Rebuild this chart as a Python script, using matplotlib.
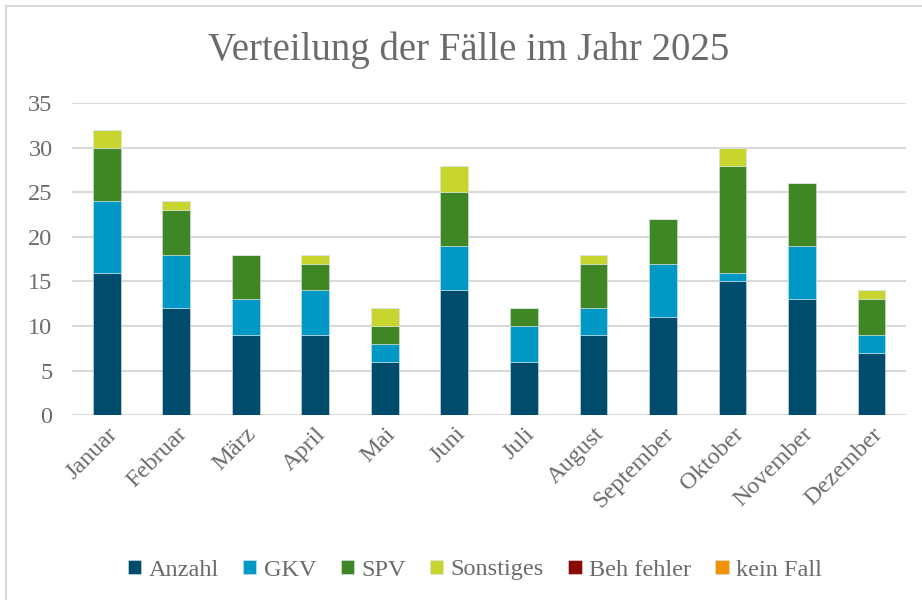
import matplotlib
matplotlib.use('Agg')
import matplotlib.pyplot as plt
import numpy as np
from matplotlib import rcParams
from matplotlib.patches import Rectangle

rcParams['font.family'] = ['Liberation Serif', 'DejaVu Serif']

monate = ['Januar', 'Februar', 'März', 'April', 'Mai', 'Juni', 'Juli',
          'August', 'September', 'Oktober', 'November', 'Dezember']
anzahl = [16, 12, 9, 9, 6, 14, 6, 9, 11, 15, 13, 7]
gkv = [8, 6, 4, 5, 2, 5, 4, 3, 6, 1, 6, 2]
spv = [6, 5, 5, 3, 2, 6, 2, 5, 5, 12, 7, 4]
sonstiges = [2, 1, 0, 1, 2, 3, 0, 1, 0, 2, 0, 1]
beh_fehler = [0] * 12
kein_fall = [0] * 12

serien = [('Anzahl', anzahl, '#004c6d'),
          ('GKV', gkv, '#0099c6'),
          ('SPV', spv, '#3f8624'),
          ('Sonstiges', sonstiges, '#c8d52f'),
          ('Beh fehler', beh_fehler, '#8b0a00'),
          ('kein Fall', kein_fall, '#f39200')]

textfarbe = '#6b6b6b'

fig = plt.figure(figsize=[9.22, 6], dpi=100)
ax = fig.add_axes([0.078, 0.308, 0.905, 0.52])

x = np.arange(len(monate))
unten = np.zeros(len(monate))
for name, werte, farbe in serien:
    ax.bar(x, werte, 0.4, bottom=unten, color=farbe, label=name,
           edgecolor='#d8e4ea', linewidth=0.4, zorder=3)
    unten += np.array(werte)

ax.set_ylim(0, 35)
ax.set_xlim(-0.5, len(monate) - 0.5)
ax.set_yticks(range(0, 36, 5))
ax.yaxis.grid(True, color='#d9d9d9', linewidth=1.5, zorder=0)
ax.set_axisbelow(True)
for s in ax.spines.values():
    s.set_visible(False)
ax.tick_params(axis='both', length=0, colors=textfarbe, labelsize=17.5)
ax.tick_params(axis='y', pad=14)
ax.tick_params(axis='x', pad=6)
ax.set_xticks(x)
ax.set_xticklabels(monate, rotation=45, ha='right', rotation_mode='anchor')

fig.text(0.508, 0.917, 'Verteilung der Fälle im Jahr 2025', ha='center',
         va='center', fontsize=28, color=textfarbe)

handles, labels = ax.get_legend_handles_labels()
fig.legend(handles, labels, loc='center', bbox_to_anchor=(0.515, 0.05),
           ncol=6, frameon=False, fontsize=17.5, labelcolor=textfarbe,
           handlelength=0.55, handleheight=0.55, handletextpad=0.3,
           columnspacing=1.0)

fig.patches.append(Rectangle((6 / 922, -0.1), 1.2, 1.0 - 6 / 600 + 0.1,
                             transform=fig.transFigure, fill=False,
                             edgecolor='#d9d9d9', linewidth=1.5))

plt.savefig('out.png')
